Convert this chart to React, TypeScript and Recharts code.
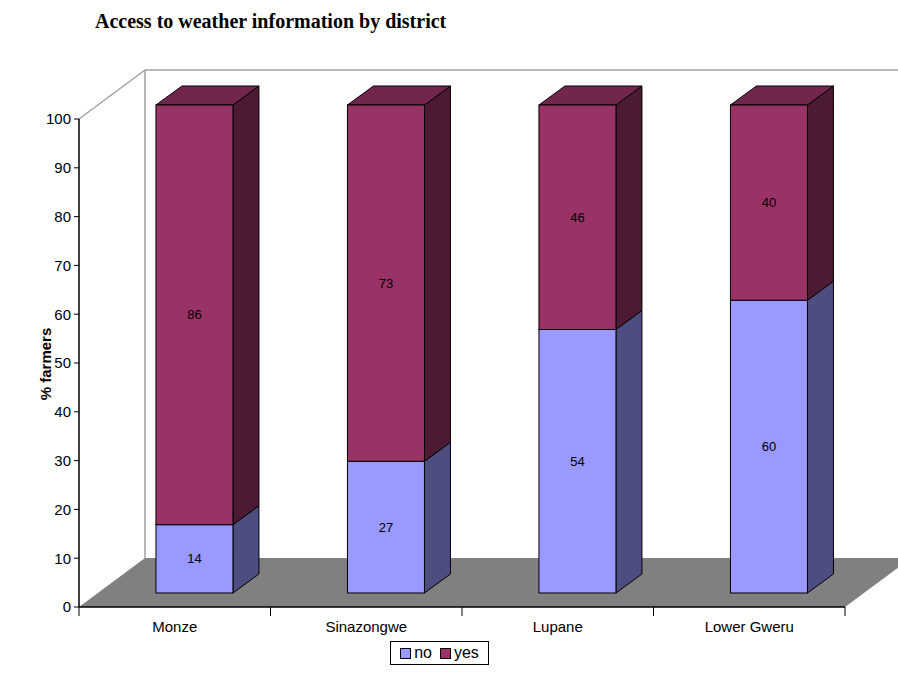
import React from 'react';
import { BarChart, Bar, XAxis, YAxis, ReferenceArea, LabelList } from 'recharts';

const categories = ['Monze', 'Sinazongwe', 'Lupane', 'Lower Gweru'];
const noValues = [14, 27, 54, 60];
const yesValues = [86, 73, 46, 40];
const yTicks = [0, 10, 20, 30, 40, 50, 60, 70, 80, 90, 100];
const seriesNames = ['no', 'yes'];

const data = categories.map((name, i) => ({ name, no: noValues[i], yes: yesValues[i] }));

// 3D projection parameters
const SX = 19.5; // bar front-plane shift relative to axis plane
const SY = -14;
const BDX = 26; // bar depth
const BDY = -19;
const FDX = 66; // floor / wall depth
const FDY = -49;

const COLORS = {
  no: { front: '#9999FF', side: '#4D4D80', top: '#7A7ACC' },
  yes: { front: '#993366', side: '#4D1A33', top: '#73264D' },
};

const FONT = 'Arial, "Liberation Sans", sans-serif';

const makeSegment = (key: 'no' | 'yes', withTop: boolean) => (props: any) => {
  const { x, y, width, height } = props;
  if (width == null || height == null) return null;
  const fx = x + SX;
  const fy = y + SY;
  const c = COLORS[key];
  return (
    <g>
      <polygon
        points={`${fx + width},${fy} ${fx + width + BDX},${fy + BDY} ${fx + width + BDX},${fy + height + BDY} ${fx + width},${fy + height}`}
        fill={c.side}
        stroke="#000"
        strokeWidth={1}
        strokeLinejoin="round"
      />
      {withTop && (
        <polygon
          points={`${fx},${fy} ${fx + BDX},${fy + BDY} ${fx + width + BDX},${fy + BDY} ${fx + width},${fy}`}
          fill={c.top}
          stroke="#000"
          strokeWidth={1}
          strokeLinejoin="round"
        />
      )}
      <rect x={fx} y={fy} width={width} height={height} fill={c.front} stroke="#000" strokeWidth={1} />
    </g>
  );
};

const renderLabel = (props: any) => {
  const vb = props.viewBox || {};
  const x = props.x ?? vb.x;
  const y = props.y ?? vb.y;
  const width = props.width ?? vb.width;
  const height = props.height ?? vb.height;
  return (
    <text
      x={x + width / 2 + SX}
      y={y + height / 2 + SY}
      textAnchor="middle"
      dominantBaseline="central"
      fontFamily={FONT}
      fontSize={13}
      fill="#000"
    >
      {props.value}
    </text>
  );
};

const Walls = (props: any) => {
  const { x, y, width, height } = props;
  const x0 = x;
  const x1 = x + width;
  const yTop = y;
  const yBot = y + height;
  const n = categories.length;
  const ticks = Array.from({ length: n + 1 }, (_, i) => x0 + (width * i) / n);
  return (
    <g>
      <polygon
        points={`${x0},${yBot} ${x1},${yBot} ${x1 + FDX},${yBot + FDY} ${x0 + FDX},${yBot + FDY}`}
        fill="#808080"
      />
      <line x1={x0} y1={yTop} x2={x0 + FDX} y2={yTop + FDY} stroke="#A0A0A0" strokeWidth={1.5} />
      <line x1={x0 + FDX} y1={yTop + FDY} x2={x1 + FDX} y2={yTop + FDY} stroke="#A0A0A0" strokeWidth={1.5} />
      <line x1={x0 + FDX} y1={yTop + FDY} x2={x0 + FDX} y2={yBot + FDY} stroke="#A0A0A0" strokeWidth={1.5} />
      {ticks.map((tx, i) => (
        <line key={i} x1={tx} y1={yBot} x2={tx} y2={yBot + 9} stroke="#000" strokeWidth={1} />
      ))}
    </g>
  );
};

const YLabel = () => {
  const cx = 45;
  const cy = 364;
  return (
    <text
      x={cx}
      y={cy}
      transform={`rotate(-90 ${cx} ${cy})`}
      textAnchor="middle"
      dominantBaseline="central"
      fontFamily={FONT}
      fontWeight="bold"
      fontSize={15}
      fill="#000"
    >
      % farmers
    </text>
  );
};

export default function App() {
  return (
    <div style={{ position: 'absolute', left: 0, top: 0, width: 898, height: 690, background: '#fff' }}>
      <div
        style={{
          position: 'absolute',
          left: 95,
          top: 10,
          fontFamily: '"Liberation Serif", "Times New Roman", serif',
          fontWeight: 'bold',
          fontSize: 20,
          color: '#000',
          whiteSpace: 'nowrap',
          zIndex: 2,
        }}
      >
        Access to weather information by district
      </div>
      <BarChart
        width={898}
        height={690}
        data={data}
        margin={{ top: 119, right: 53, bottom: 0, left: 0 }}
        barCategoryGap="30%"
      >
        <ReferenceArea y1={0} y2={100} ifOverflow="visible" shape={<Walls />} fill="none" stroke="none" />
        <XAxis
          dataKey="name"
          height={83}
          interval={0}
          tickSize={0}
          tickMargin={14}
          tickLine={false}
          axisLine={{ stroke: '#000', strokeWidth: 1.5 }}
          tick={{ fill: '#000', fontSize: 15, fontFamily: FONT }}
        />
        <YAxis
          type="number"
          width={79}
          domain={[0, 100]}
          ticks={yTicks}
          interval={0}
          tickSize={5}
          tickMargin={3}
          axisLine={{ stroke: '#000', strokeWidth: 1.5 }}
          tickLine={{ stroke: '#000' }}
          tick={{ fill: '#000', fontSize: 15, fontFamily: FONT }}
          label={{ content: <YLabel /> }}
        />
        <Bar dataKey="no" stackId="a" isAnimationActive={false} shape={makeSegment('no', false)}>
          <LabelList dataKey="no" content={renderLabel} />
        </Bar>
        <Bar dataKey="yes" stackId="a" isAnimationActive={false} shape={makeSegment('yes', true)}>
          <LabelList dataKey="yes" content={renderLabel} />
        </Bar>
      </BarChart>
      <div
        style={{
          position: 'absolute',
          left: 390,
          top: 641,
          width: 97,
          height: 22,
          border: '1px solid #000',
          display: 'flex',
          alignItems: 'center',
          justifyContent: 'center',
          gap: 8,
          fontFamily: FONT,
          fontSize: 16,
          color: '#000',
          zIndex: 2,
        }}
      >
        {seriesNames.map((s) => (
          <span key={s} style={{ display: 'flex', alignItems: 'center', gap: 3 }}>
            <span
              style={{
                display: 'inline-block',
                width: 9,
                height: 9,
                border: '1px solid #000',
                background: COLORS[s as 'no' | 'yes'].front,
              }}
            />
            {s}
          </span>
        ))}
      </div>
    </div>
  );
}
